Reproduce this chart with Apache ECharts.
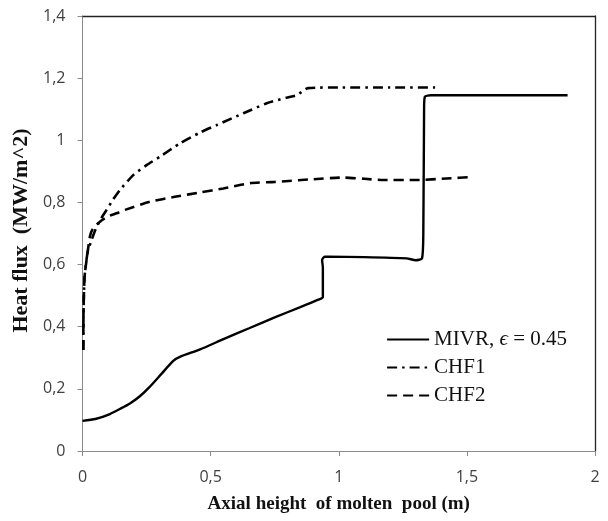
<!DOCTYPE html>
<html>
<head>
<meta charset="utf-8">
<script src="https://cdn.jsdelivr.net/npm/echarts@6/dist/echarts.min.js"></script>
<style>
  html, body { margin: 0; padding: 0; background: #fff; }
  #chart { width: 608px; height: 521px; }
</style>
</head>
<body>
<div id="chart"></div>
<script>
// Wall heat flux along the lower head vs. axial height of the molten pool
const seriesNames = ['MIVR, ϵ = 0.45', 'CHF1', 'CHF2'];

const mivrX = [0, 0.05, 0.107, 0.15, 0.185, 0.225, 0.263, 0.31, 0.354, 0.38, 0.459, 0.55, 0.65, 0.75, 0.85, 0.92, 0.938, 0.938, 0.935, 0.945, 0.96, 1.1, 1.265, 1.3, 1.325, 1.33, 1.333, 1.336, 1.36, 1.6, 1.893];
const mivrY = [0.097, 0.103, 0.119, 0.137, 0.153, 0.177, 0.207, 0.25, 0.29, 0.303, 0.327, 0.36, 0.395, 0.43, 0.463, 0.487, 0.495, 0.59, 0.615, 0.625, 0.625, 0.624, 0.62, 0.614, 0.62, 0.7, 1.1, 1.14, 1.145, 1.145, 1.145];

const chf1X = [0.003, 0.004, 0.008, 0.02, 0.036, 0.05, 0.07, 0.094, 0.12, 0.146, 0.198, 0.25, 0.302, 0.38, 0.459, 0.524, 0.628, 0.719, 0.8, 0.836, 0.88, 1.0, 1.2, 1.376];
const chf1Y = [0.325, 0.45, 0.56, 0.64, 0.68, 0.711, 0.745, 0.776, 0.81, 0.84, 0.888, 0.92, 0.947, 0.99, 1.025, 1.049, 1.087, 1.119, 1.138, 1.145, 1.168, 1.17, 1.17, 1.17];

const chf2X = [0.003, 0.004, 0.008, 0.02, 0.029, 0.04, 0.068, 0.1, 0.133, 0.166, 0.263, 0.36, 0.459, 0.55, 0.654, 0.75, 0.888, 1.018, 1.1, 1.174, 1.304, 1.42, 1.525];
const chf2Y = [0.325, 0.45, 0.56, 0.64, 0.69, 0.715, 0.738, 0.755, 0.765, 0.776, 0.802, 0.818, 0.832, 0.845, 0.862, 0.866, 0.874, 0.88, 0.876, 0.872, 0.872, 0.877, 0.882];

const xTicks = { min: 0, max: 2, interval: 0.5 };
const yTicks = { min: 0, max: 1.4, interval: 0.2 };

const pairs = (xs, ys) => xs.map((x, i) => [x, ys[i]]);
const commaDecimal = v => String(+v.toFixed(2)).replace('.', ',');

const tickFont = { fontFamily: 'Open Sans', fontSize: 16, color: '#404040' };
const titleFont = { fontFamily: 'Liberation Serif', fontWeight: 'bold', fontSize: 19, color: '#111' };

const chart = echarts.init(document.getElementById('chart'), null, { renderer: 'canvas' });

chart.setOption({
  backgroundColor: '#fff',
  animation: false,
  grid: { left: 82.5, right: 13, top: 16, bottom: 70, containLabel: false },
  legend: {
    orient: 'vertical',
    right: 36,
    top: 324,
    itemWidth: 42,
    itemHeight: 14,
    itemGap: 7,
    data: seriesNames,
    itemStyle: { opacity: 0 },
    formatter: name => name.indexOf('ϵ') >= 0
      ? '{t|MIVR, }{e|ϵ}{t| = 0.45}'
      : '{t|' + name + '}',
    textStyle: {
      fontFamily: 'Liberation Serif', fontSize: 21, color: '#111',
      rich: {
        t: { fontFamily: 'Liberation Serif', fontSize: 21, color: '#111' },
        e: { fontFamily: 'Liberation Serif', fontStyle: 'italic', fontSize: 21, color: '#111' }
      }
    }
  },
  xAxis: [{
    type: 'value',
    min: xTicks.min, max: xTicks.max, interval: xTicks.interval,
    name: 'Axial height  of molten  pool (m)',
    nameLocation: 'middle',
    nameGap: 44,
    nameTextStyle: titleFont,
    axisLine: { show: true, lineStyle: { color: '#8a8a8a', width: 1 } },
    axisTick: { show: true, inside: false, length: 5, lineStyle: { color: '#8a8a8a' } },
    axisLabel: { margin: 18, formatter: commaDecimal, ...tickFont },
    splitLine: { show: false }
  }, {
    type: 'value', position: 'top',
    min: xTicks.min, max: xTicks.max,
    axisLine: { show: true, onZero: false, lineStyle: { color: '#222', width: 1.3 } },
    axisTick: { show: false }, axisLabel: { show: false }, splitLine: { show: false }
  }],
  yAxis: [{
    type: 'value',
    min: yTicks.min, max: yTicks.max, interval: yTicks.interval,
    name: 'Heat flux  (MW/m^2)',
    nameLocation: 'middle',
    nameGap: 50,
    nameRotate: 90,
    nameTextStyle: { ...titleFont, fontSize: 22, padding: [0, 0, 0, 6] },
    axisLine: { show: true, lineStyle: { color: '#8a8a8a', width: 1 } },
    axisTick: { show: true, inside: false, length: 5, lineStyle: { color: '#8a8a8a' } },
    axisLabel: { margin: 17, formatter: commaDecimal, ...tickFont },
    splitLine: { show: false }
  }, {
    type: 'value', position: 'right',
    min: yTicks.min, max: yTicks.max,
    axisLine: { show: true, onZero: false, lineStyle: { color: '#222', width: 1.3 } },
    axisTick: { show: false }, axisLabel: { show: false }, splitLine: { show: false }
  }],
  series: [{
    name: seriesNames[0],
    type: 'line',
    data: pairs(mivrX, mivrY),
    showSymbol: false, symbol: 'none', smooth: 0.2,
    lineStyle: { color: '#000', width: 2.4, type: 'solid' },
    itemStyle: { color: '#000' }
  }, {
    name: seriesNames[1],
    type: 'line',
    data: pairs(chf1X, chf1Y),
    showSymbol: false, symbol: 'none', smooth: 0.2,
    lineStyle: { color: '#000', width: 2.6, type: [10, 5, 2.5, 5] },
    itemStyle: { color: '#000' }
  }, {
    name: seriesNames[2],
    type: 'line',
    data: pairs(chf2X, chf2Y),
    showSymbol: false, symbol: 'none', smooth: 0.2,
    lineStyle: { color: '#000', width: 2.6, type: [10, 6] },
    itemStyle: { color: '#000' }
  }]
});
</script>
</body>
</html>
